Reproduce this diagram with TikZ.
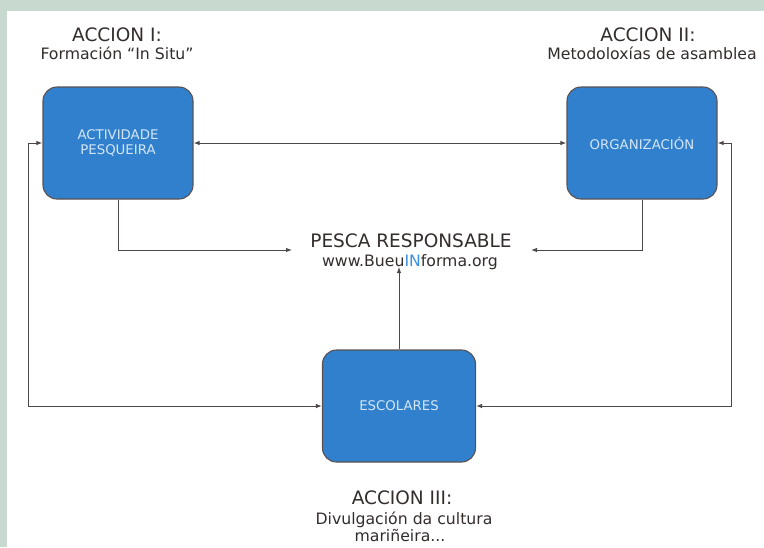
\documentclass[tikz,border=0pt]{standalone}
\usepackage{fontspec}
\setmainfont{DejaVu Sans}
\usetikzlibrary{arrows.meta}
\definecolor{bggreen}{HTML}{C8D9CF}
\definecolor{boxblue}{HTML}{3180CD}
\definecolor{boxedge}{HTML}{5A5252}
\definecolor{boxtext}{HTML}{D4E6F6}
\definecolor{txt}{HTML}{332D2B}
\definecolor{linec}{HTML}{4E4848}
\definecolor{inblue}{HTML}{3A90DA}
\begin{document}
\begin{tikzpicture}[x=1pt,y=-1pt,
  actbox/.style={draw=boxedge, line width=1.1pt, fill=boxblue, rounded corners=14pt,
    minimum width=150pt, minimum height=112pt, text=boxtext,
    font=\fontsize{13.3}{14.5}\selectfont, align=center, inner sep=0pt},
  conn/.style={draw=linec, line width=1pt},
  tipend/.style={-{Latex[length=6pt,width=4.5pt]}},
  tipboth/.style={{Latex[length=6pt,width=4.5pt]}-{Latex[length=6pt,width=4.5pt]}},
  title/.style={text=txt, font=\fontsize{18.5}{20}\selectfont, inner sep=0pt, anchor=base},
  sub/.style={text=txt, font=\fontsize{15.7}{17}\selectfont, inner sep=0pt, anchor=base}]
\fill[bggreen] (0,0) rectangle (764,547);
\fill[white] (7,11) rectangle (764,547);

\node[actbox] (act) at (118,143) {ACTIVIDADE\\PESQUEIRA};
\node[actbox] (org) at (642,143) {ORGANIZACIÓN};
\node[actbox, minimum width=153pt] (esc) at (399,406) {ESCOLARES};

\node[title] (a1) at (117,41) {ACCION I:};
\node[sub] (a1s) at (117,59) {Formación “In Situ”};
\node[title] (a2) at (648,41) {ACCION II:};
\node[sub] (a2s) at (652,59) {Metodoloxías de asamblea};
\node[title] (pesca) at (411,247) {PESCA RESPONSABLE};
\node[sub] (web) at (410,266.5) {www.Bueu\textcolor{inblue}{IN}forma.org};
\node[title] (a3) at (402,504) {ACCION III:};
\node[sub] (a3s) at (404,524.5) {Divulgación da cultura};
\node[sub] (a3t) at (400,541.5) {mariñeira...};

\coordinate (pl) at (292,250);
\coordinate (pr) at (531,250);
\coordinate (pu) at (399,267);
\coordinate (ll) at (28,406);
\coordinate (rl) at (731,406);

\draw[conn,tipboth] (act.east) -- (org.west);
\draw[conn,tipend] (act.south) |- (pl);
\draw[conn,tipend] (org.south) |- (pr);
\draw[conn,tipend] (esc.north) -- (pu);
\draw[conn,tipboth] (act.west) -| (ll) -- (esc.west);
\draw[conn,tipboth] (org.east) -| (rl) -- (esc.east);
\end{tikzpicture}
\end{document}
